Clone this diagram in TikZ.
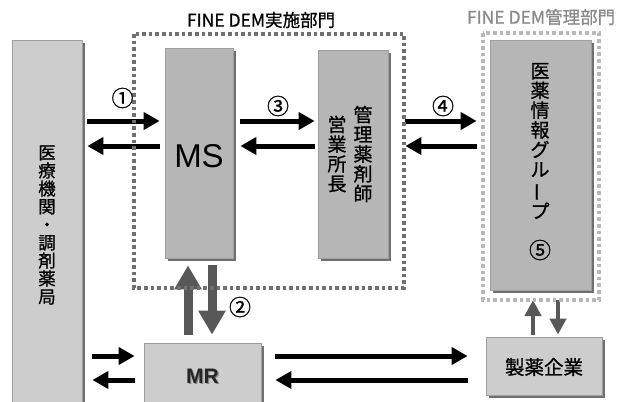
\documentclass[tikz,border=0pt]{standalone}
\usepackage{fontspec}
\usepackage{graphicx}
\setmainfont{Noto Sans CJK JP}[FakeBold=0.9]
\newfontfamily\cjkv{Noto Sans CJK JP}[FakeBold=0.9]
\newfontfamily\lat{Liberation Sans}
\usetikzlibrary{arrows.meta,calc,shadows}
\definecolor{boxA}{HTML}{CDCDCD}
\definecolor{boxB}{HTML}{B6B6B6}
\definecolor{shad}{HTML}{707070}
\definecolor{arrg}{HTML}{585858}
\definecolor{dotA}{HTML}{707070}
\definecolor{dotB}{HTML}{B8B8B8}
\definecolor{ttlB}{HTML}{8A8A8A}
\newcommand{\vbar}{\rotatebox[origin=c]{90}{ー}}
\tikzset{
  tbox/.style={rectangle, draw=gray!75, line width=0.8pt, inner sep=0pt,
    drop shadow={shadow xshift=3pt, shadow yshift=-3pt, fill=shad, opacity=1}},
  lightbox/.style={tbox, fill=boxA},
  darkbox/.style={tbox, fill=boxB},
  dotbox/.style={draw=dotA, line width=3.6pt, dash pattern=on 3.6pt off 3pt, inner sep=0pt},
  dotboxB/.style={dotbox, draw=dotB},
  barr/.style={line width=5pt, draw=black, -{Triangle[length=16pt,width=17pt]}},
  garr/.style={line width=9pt, draw=arrg, -{Triangle[length=24pt,width=26pt]}},
  sarr/.style={line width=4.5pt, draw=arrg, -{Triangle[length=16pt,width=16pt]}},
  vt/.style={align=center, inner sep=0pt},
  num/.style={inner sep=0pt, font=\fontsize{22}{22}\selectfont},
}
\begin{document}
\begin{tikzpicture}[x=1pt,y=-1pt]
\useasboundingbox (0,0) rectangle (628,401);
% boxes
\node[lightbox, minimum width=70pt, minimum height=362pt] (left) at (47,221) {};
\node[darkbox, minimum width=68pt, minimum height=210pt] (ms) at (199,153) {};
\node[darkbox, minimum width=70pt, minimum height=208pt] (kanri) at (353,154) {};
\node[darkbox, minimum width=101pt, minimum height=250pt] (iyaku) at (540.5,165) {};
\node[lightbox, minimum width=116pt, minimum height=58pt] (seiyaku) at (544,366) {};
\node[lightbox, minimum width=117pt, minimum height=59pt] (mr) at (202.5,372.5) {};
% texts
\node[vt, font=\cjkv\fontsize{17.5}{18}\selectfont] (lefttxt) at (47,225)
  {医\\療\\機\\関\\・\\調\\剤\\薬\\局};
\node[inner sep=0pt, font=\lat\fontsize{33}{33}\selectfont] (mstxt) at (199,156) {MS};
\node[vt, font=\cjkv\fontsize{19}{19.7}\selectfont] (kanriA) at (363,154)
  {管\\理\\薬\\剤\\師};
\node[vt, font=\cjkv\fontsize{19}{19.7}\selectfont] (kanriB) at (337,154)
  {営\\業\\所\\長};
\node[vt, font=\cjkv\fontsize{19}{19.7}\selectfont] (iyakutxt) at (540,141)
  {医\\薬\\情\\報\\グ\\ル\\\vbar\\プ};
\node[num] (n5) at (540,250) {⑤};
\node[inner sep=0pt, font=\fontsize{19.5}{19.5}\selectfont] (seiyakutxt) at (544,367) {製薬企業};
\node[inner sep=0pt, text=gray!95, font=\lat\bfseries\fontsize{21}{21}\selectfont] (mrshadow) at (203.8,377.3) {MR};
\node[inner sep=0pt, text=black!85, font=\lat\bfseries\fontsize{21}{21}\selectfont] (mrtxt) at (202.5,376) {MR};
% titles
\node[inner sep=0pt, font=\fontsize{17.5}{17.5}\selectfont] (t1) at (261,20) {FINE DEM実施部門};
\node[inner sep=0pt, text=ttlB, font=\fontsize{17.5}{17.5}\selectfont] (t2) at (541,17) {FINE DEM管理部門};
% reference coordinates
\coordinate (r1) at (0,121);
\coordinate (r2) at (0,146);
\coordinate (r3) at (0,356);
\coordinate (r4) at (0,380);
\coordinate (c1) at (188,0);
\coordinate (c2) at (212,0);
\coordinate (c3) at (533,0);
\coordinate (c4) at (558,0);
\coordinate (f1a) at (134,34);
\coordinate (f1b) at (404,288);
\coordinate (f2a) at (483,33);
\coordinate (f2b) at (599,300);
% arrows
\draw[barr, shorten <=5pt, shorten >=5pt] (left.east |- r1) -- (ms.west |- r1);
\draw[barr, shorten <=5pt, shorten >=5pt] (ms.west |- r2) -- (left.east |- r2);
\draw[barr, shorten <=7pt, shorten >=3pt] (ms.east |- r1) -- (kanri.west |- r1);
\draw[barr, shorten <=3pt, shorten >=7pt] (kanri.west |- r2) -- (ms.east |- r2);
\draw[barr, shorten <=17pt, shorten >=13pt] (kanri.east |- r1) -- (iyaku.west |- r1);
\draw[barr, shorten <=13pt, shorten >=17pt] (iyaku.west |- r2) -- (kanri.east |- r2);
\draw[barr, shorten <=10pt, shorten >=9pt] (left.east |- r3) -- (mr.west |- r3);
\draw[barr, shorten <=9pt, shorten >=10pt] (mr.west |- r4) -- (left.east |- r4);
\draw[barr, shorten <=14pt, shorten >=18pt] (mr.east |- r3) -- (seiyaku.west |- r3);
\draw[barr, shorten <=18pt, shorten >=14pt] (seiyaku.west |- r4) -- (mr.east |- r4);
\draw[garr, shorten <=8pt, shorten >=7pt] (c1 |- mr.north) -- (c1 |- ms.south);
\draw[garr, shorten <=7pt, shorten >=8pt] (c2 |- ms.south) -- (c2 |- mr.north);
\draw[sarr, shorten <=2pt, shorten >=0pt] (c3 |- seiyaku.north) -- (c3 |- f2b);
\draw[sarr, shorten <=0pt, shorten >=2pt] (c4 |- f2b) -- (c4 |- seiyaku.north);
% dotted frames
\draw[dotbox] (f1a) rectangle (f1b);
\draw[dotboxB] (f2a) rectangle (f2b);
% numbers
\node[num] (n1) at (122.5,98) {①};
\node[num] (n3) at (278,106) {③};
\node[num] (n4) at (443,106) {④};
\node[num] (n2) at (240,307) {②};
\end{tikzpicture}
\end{document}
